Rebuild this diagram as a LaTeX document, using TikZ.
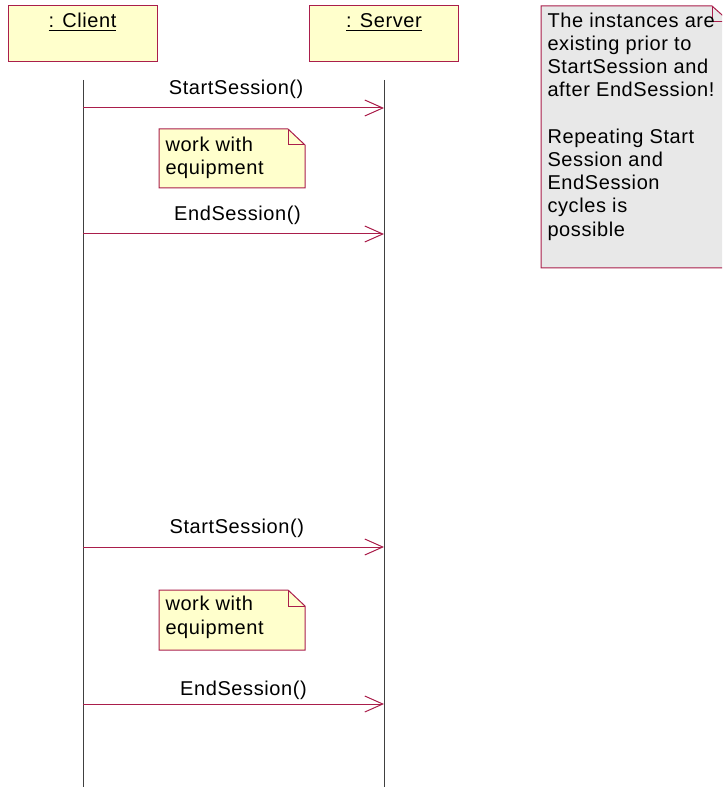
\documentclass[tikz,border=0pt]{standalone}
\usepackage{fontspec}
\setmainfont[LetterSpace=3]{Liberation Sans}
\usetikzlibrary{arrows.meta}

\definecolor{umlred}{RGB}{170,30,75}
\definecolor{umlyellow}{RGB}{255,255,204}
\definecolor{umlgray}{RGB}{232,232,232}
\definecolor{lifegray}{RGB}{64,64,64}

\tikzset{every picture/.style={line width=0.75pt}}
\tikzset{
  objbox/.style={draw=umlred, fill=umlyellow, minimum width=111.75pt, minimum height=42pt, inner sep=0pt,
    text height=11pt, text depth=20pt, font=\fontsize{15}{17.4}\selectfont},
  lifeline/.style={draw=lifegray},
  msg/.style={draw=umlred, -{Straight Barb[length=13.5pt,width=12pt]}},
  msglbl/.style={midway, anchor=south, inner sep=0pt, font=\fontsize{15}{17.4}\selectfont},
  notebox/.style={draw=umlred, fill=umlyellow},
  hintbox/.style={draw=umlred, fill=umlgray},
  notetext/.style={anchor=north west, inner sep=0pt, align=left, font=\fontsize{15}{17.4}\selectfont},
}

\begin{document}
\begin{tikzpicture}[x=0.75pt,y=0.75pt,yscale=-1]
        \useasboundingbox (0,0) rectangle (722,787);
        \clip (0,0) rectangle (722,787);

        %Shape: Objects
        \node[objbox] (client) at (82.5,34) {\underline{: Client}};
        \node[objbox] (server) at (384,34) {\underline{: Server}};

        %Straight Lines: lifelines
        \coordinate (client-top) at (83,80);
        \coordinate (client-end) at (83,787);
        \coordinate (server-top) at (384,80);
        \coordinate (server-end) at (384,787);
        \draw[lifeline] (client-top) -- (client-end);
        \draw[lifeline] (server-top) -- (server-end);

        %Straight Lines: messages
        \coordinate (start1-c) at (83,108);
        \coordinate (start1-s) at (384,108);
        \coordinate (end1-c) at (83,234);
        \coordinate (end1-s) at (384,234);
        \coordinate (start2-c) at (83,547);
        \coordinate (start2-s) at (384,547);
        \coordinate (end2-c) at (83,704);
        \coordinate (end2-s) at (384,704);
        \draw[msg] (start1-c) -- (start1-s) node[msglbl, yshift=6.5pt, xshift=2pt] (start1-lbl) {StartSession()};
        \draw[msg] (end1-c) -- (end1-s) node[msglbl, yshift=6.5pt, xshift=3pt] (end1-lbl) {EndSession()};
        \draw[msg] (start2-c) -- (start2-s) node[msglbl, yshift=7pt, xshift=2.5pt] (start2-lbl) {StartSession()};
        \draw[msg] (end2-c) -- (end2-s) node[msglbl, yshift=3pt, xshift=7.5pt] (end2-lbl) {EndSession()};

        %Shape: Note
        \draw[notebox] (159,129) -- (288,129) -- (305,145) -- (305,188) -- (159,188) -- cycle;
        \draw[umlred] (288,129) -- (288,145) -- (305,145);
        % Text Node
        \node[notetext] (work1) at (165,136.5) {work with\\equipment};

        %Shape: Note
        \draw[notebox] (159,590) -- (288,590) -- (305,606) -- (305,650) -- (159,650) -- cycle;
        \draw[umlred] (288,590) -- (288,606) -- (305,606);
        % Text Node
        \node[notetext] (work2) at (165,596) {work with\\equipment};

        %Shape: Note
        \draw[hintbox] (541,6) -- (712,6) -- (730,22) -- (730,268) -- (541,268) -- cycle;
        \draw[umlred] (712,6) -- (712,22) -- (730,22);
        % Text Node
        \node[notetext] (hint) at (547,12.4) {The instances are\\existing prior to\\StartSession and\\after EndSession!\\[17.4pt]Repeating Start\\Session and\\EndSession\\cycles is\\possible};

\end{tikzpicture}
\end{document}
